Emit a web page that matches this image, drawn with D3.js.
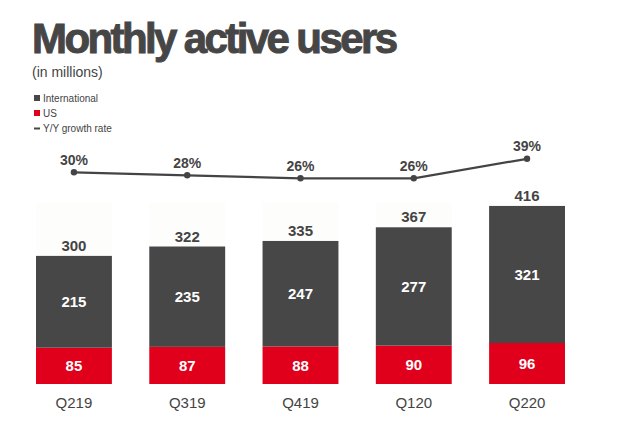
<!DOCTYPE html>
<html>
<head>
<meta charset="utf-8">
<script src="https://cdn.jsdelivr.net/npm/d3@7"></script>
<style>
  body { margin: 0; background: #fff; }
  svg { display: block; font-family: Helvetica, "Liberation Sans", Arial, sans-serif; }
</style>
</head>
<body>
<div id="vis"></div>
<script>
const quarters = ["Q219", "Q319", "Q419", "Q120", "Q220"]
const usUsers = [85, 87, 88, 90, 96]
const intlUsers = [215, 235, 247, 277, 321]
const totalUsers = [300, 322, 335, 367, 416]
const growthRate = [30, 28, 26, 26, 39]
const legendItems = ["International", "US", "Y/Y growth rate"]

const dark = "#474747"
const red = "#e0001b"
const textCol = "#444"

const width = 640, height = 421

const svg = d3.select("#vis").append("svg").attr("width", width).attr("height", height)

// title block
svg.append("text")
    .attr("x", 32).attr("y", 53)
    .attr("font-size", 42).attr("font-weight", "bold")
    .attr("fill", "#464646").attr("stroke", "#464646").attr("stroke-width", 1)
    .attr("textLength", 366).attr("lengthAdjust", "spacing")
    .text("Monthly active users")

svg.append("text")
    .attr("x", 32).attr("y", 77)
    .attr("font-size", 14).attr("fill", textCol)
    .text("(in millions)")

// legend
const legend = svg.append("g").selectAll("g")
    .data(legendItems)
    .join("g")
    .attr("transform", (d, i) => `translate(34, ${95 + i * 15})`)

legend.each(function(d, i) {
    const g = d3.select(this)
    if (i < 2) {
        g.append("rect").attr("width", 6).attr("height", 6).attr("fill", i == 0 ? dark : red)
    } else {
        g.append("rect").attr("y", 2.5).attr("width", 6).attr("height", 2).attr("fill", dark)
    }
    g.append("text").attr("x", 9).attr("y", 6.5)
        .attr("font-size", 10).attr("fill", textCol)
        .text(d)
})

// scales
const x = d3.scaleBand().domain(quarters).range([36, 565]).paddingInner(0.33).paddingOuter(0)
const y = d3.scaleLinear().domain([0, 400]).range([384, 213.2])
const yg = d3.scaleLinear().domain([20, 40]).range([187.3, 157.3])

const rows = quarters.map((q, i) => ({
    q: q, us: usUsers[i], intl: intlUsers[i], total: totalUsers[i], growth: growthRate[i]
}))

// very faint panel behind each bar
svg.append("g").selectAll("rect")
    .data(rows)
    .join("rect")
    .attr("x", d => x(d.q))
    .attr("width", x.bandwidth())
    .attr("y", 202)
    .attr("height", d => Math.max(0, y(d.total) - 202))
    .attr("fill", "#fdfdfb")

// bars
const bars = svg.append("g")
bars.selectAll(".us")
    .data(rows)
    .join("rect")
    .attr("class", "us")
    .attr("x", d => x(d.q))
    .attr("width", x.bandwidth())
    .attr("y", d => y(d.us))
    .attr("height", d => y(0) - y(d.us))
    .attr("fill", red)

bars.selectAll(".intl")
    .data(rows)
    .join("rect")
    .attr("class", "intl")
    .attr("x", d => x(d.q))
    .attr("width", x.bandwidth())
    .attr("y", d => y(d.us + d.intl))
    .attr("height", d => y(d.us) - y(d.us + d.intl))
    .attr("fill", dark)

const labels = svg.append("g")
    .attr("text-anchor", "middle").attr("font-weight", "bold").attr("font-size", 15)

labels.selectAll(".usl")
    .data(rows)
    .join("text")
    .attr("x", d => x(d.q) + x.bandwidth() / 2)
    .attr("y", d => (y(0) + y(d.us)) / 2 + 5.5)
    .attr("fill", "#fff")
    .text(d => d.us)

labels.selectAll(".intll")
    .data(rows)
    .join("text")
    .attr("x", d => x(d.q) + x.bandwidth() / 2)
    .attr("y", d => (y(d.us) + y(d.us + d.intl)) / 2 + 5.5)
    .attr("fill", "#fff")
    .text(d => d.intl)

labels.selectAll(".totl")
    .data(rows)
    .join("text")
    .attr("x", d => x(d.q) + x.bandwidth() / 2)
    .attr("y", d => y(d.total) - 5)
    .attr("fill", textCol)
    .text(d => d.total)

// category axis
const xAxis = svg.append("g")
    .attr("transform", "translate(0, 408)")
    .call(d3.axisBottom(x).tickSize(0).tickPadding(0))
xAxis.select(".domain").remove()
xAxis.selectAll("text")
    .attr("dy", 0).attr("y", 0)
    .attr("font-size", 15).attr("fill", textCol)
    .attr("font-family", "Helvetica, Liberation Sans, Arial, sans-serif")

// growth line
const line = d3.line()
    .x(d => x(d.q) + x.bandwidth() / 2)
    .y(d => yg(d.growth))

svg.append("path")
    .datum(rows)
    .attr("d", line)
    .attr("fill", "none")
    .attr("stroke", textCol)
    .attr("stroke-width", 2.2)

svg.append("g").selectAll("circle")
    .data(rows)
    .join("circle")
    .attr("cx", d => x(d.q) + x.bandwidth() / 2)
    .attr("cy", d => yg(d.growth))
    .attr("r", 3.2)
    .attr("fill", textCol)

svg.append("g").selectAll("text")
    .data(rows)
    .join("text")
    .attr("x", d => x(d.q) + x.bandwidth() / 2)
    .attr("y", d => yg(d.growth) - 7.5)
    .attr("text-anchor", "middle")
    .attr("font-weight", "bold").attr("font-size", 14)
    .attr("fill", textCol)
    .text(d => d.growth + "%")
</script>
</body>
</html>
